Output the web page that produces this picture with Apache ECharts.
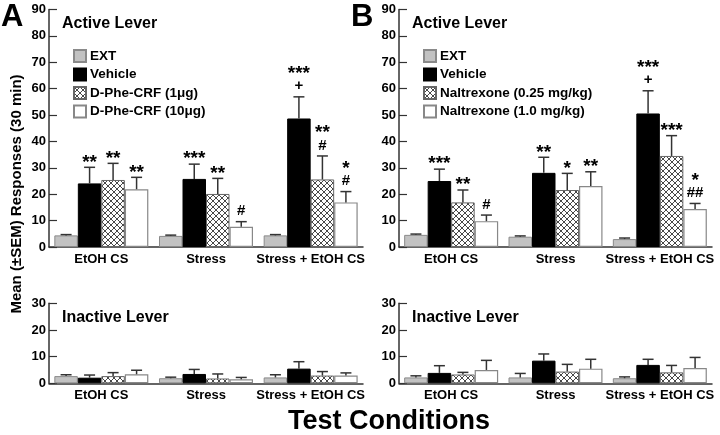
<!DOCTYPE html>
<html>
<head>
<meta charset="utf-8">
<script src="https://cdn.jsdelivr.net/npm/echarts@6/dist/echarts.min.js"></script>
<style>
html,body{margin:0;padding:0;background:#fff;}
#chart{width:720px;height:435px;}
</style>
</head>
<body>
<div id="chart"></div>
<script>
// ---------- DATA ----------
const categories = ['EtOH CS', 'Stress', 'Stress + EtOH CS'];
const namesA = ['EXT', 'Vehicle', 'D-Phe-CRF (1\u03bcg)', 'D-Phe-CRF (10\u03bcg)'];
const namesB = ['EXT', 'Vehicle', 'Naltrexone (0.25 mg/kg)', 'Naltrexone (1.0 mg/kg)'];
const activeTicks = [0, 10, 20, 30, 40, 50, 60, 70, 80, 90];
const inactiveTicks = [0, 10, 20, 30];

// Panel A - Active lever
const aActExt = [4.4, 4.2, 4.4];      const aActExtErr = [0.3, 0.3, 0.3];
const aActVeh = [24.1, 25.8, 48.7];   const aActVehErr = [6.1, 5.6, 8.2];
const aActD1 = [25.4, 20.1, 25.6];    const aActD1Err = [6.3, 5.9, 8.9];
const aActD10 = [21.9, 7.7, 16.9];    const aActD10Err = [4.5, 1.9, 4.1];
const aActVehSig = ['**', '***', '***\n+'];
const aActD1Sig = ['**', '**', '**\n#'];
const aActD10Sig = ['**', '#', '*\n#'];

// Panel A - Inactive lever
const aInExt = [2.7, 1.9, 2.2];  const aInExtErr = [0.5, 0.4, 1.0];
const aInVeh = [2.1, 3.5, 5.5];  const aInVehErr = [1.0, 1.7, 2.6];
const aInD1 = [2.7, 1.8, 2.9];   const aInD1Err = [1.3, 1.7, 1.5];
const aInD10 = [3.4, 1.5, 2.9];  const aInD10Err = [1.5, 0.7, 1.0];

// Panel B - Active lever
const bActExt = [4.6, 3.9, 3.0];      const bActExtErr = [0.3, 0.3, 0.4];
const bActVeh = [25.0, 28.1, 50.6];   const bActVehErr = [4.5, 5.9, 8.6];
const bActN25 = [16.9, 21.6, 34.5];   const bActN25Err = [4.7, 6.3, 7.7];
const bActN10 = [9.8, 23.1, 14.4];    const bActN10Err = [2.3, 5.4, 2.1];
const bActVehSig = ['***', '**', '***\n+'];
const bActN25Sig = ['**', '*', '***'];
const bActN10Sig = ['#', '**', '*\n##'];

// Panel B - Inactive lever
const bInExt = [2.2, 2.2, 1.9];  const bInExtErr = [0.6, 1.5, 0.5];
const bInVeh = [3.9, 8.5, 6.9];  const bInVehErr = [2.7, 2.5, 2.1];
const bInN25 = [3.3, 4.4, 4.1];  const bInN25Err = [0.8, 2.7, 2.6];
const bInN10 = [5.0, 5.5, 5.7];  const bInN10Err = [3.6, 3.5, 4.0];

// ---------- STYLE ----------
const FONT = "'Liberation Sans', Arial, Helvetica, sans-serif";
const BAR_W = 23.5;
const CAP_HALF = 5.5;

const hatch = document.createElement('canvas');
hatch.width = 6; hatch.height = 6;
(function () {
  const c = hatch.getContext('2d');
  c.fillStyle = '#fff'; c.fillRect(0, 0, 6, 6);
  c.strokeStyle = '#333'; c.lineWidth = 0.9;
  c.beginPath();
  c.moveTo(-1, -1); c.lineTo(7, 7);
  c.moveTo(-1, 7); c.lineTo(7, -1);
  c.stroke();
})();

const barStyles = [
  { color: '#c2c2c2', borderColor: '#8a8a8a', borderWidth: 1 },
  { color: '#000000', borderColor: '#000000', borderWidth: 1 },
  { color: { image: hatch, repeat: 'repeat' }, borderColor: '#666', borderWidth: 1 },
  { color: '#ffffff', borderColor: '#888', borderWidth: 1.2 }
];

const grids = [
  { left: 49, width: 314, top: 9.5, height: 237.5 },
  { left: 49, width: 314, top: 303.3, height: 80 },
  { left: 399, width: 313, top: 9.5, height: 237.5 },
  { left: 399, width: 313, top: 303.3, height: 80 }
];

function xAx(i) {
  return {
    type: 'category', gridIndex: i, data: categories,
    axisLine: { lineStyle: { color: '#333', width: 1.5 } },
    axisTick: { show: false },
    axisLabel: { color: '#000', fontFamily: FONT, fontWeight: 'bold', fontSize: 13, margin: 6, interval: 0 }
  };
}
function yAx(i, ticks) {
  return {
    type: 'value', gridIndex: i, min: ticks[0], max: ticks[ticks.length - 1],
    interval: ticks[1] - ticks[0],
    axisLine: { show: true, lineStyle: { color: '#333', width: 1.5 } },
    axisTick: { show: true, inside: true, length: 8, lineStyle: { color: '#333', width: 1.2 } },
    axisLabel: { color: '#000', fontFamily: FONT, fontWeight: 'bold', fontSize: 13, margin: 3 },
    splitLine: { show: false }
  };
}

function richSig(s) {
  return s.split('\n').map(function (line) {
    return line.indexOf('*') >= 0 ? '{s|' + line + '}' : '{p|' + line + '}';
  }).join('\n');
}

function panelSeries(g, names, means, errs, sigs) {
  const out = [];
  means.forEach((m, bi) => {
    out.push({
      type: 'bar', name: names[bi], xAxisIndex: g, yAxisIndex: g,
      data: m, barWidth: BAR_W, barGap: '0%',
      itemStyle: barStyles[bi], silent: true
    });
  });
  const items = [];
  means.forEach((m, bi) => m.forEach((v, ci) => items.push([ci, bi, v, errs[bi][ci]])));
  out.push({
    type: 'custom', xAxisIndex: g, yAxisIndex: g, z: 10, silent: true,
    data: items,
    renderItem: function (params, api) {
      const ci = api.value(0), bi = api.value(1), v = api.value(2), e = api.value(3);
      const base = api.coord([ci, v]);
      const top = api.coord([ci, v + e]);
      const x = base[0] + (bi - 1.5) * BAR_W;
      const children = [
        { type: 'line', shape: { x1: x, y1: base[1], x2: x, y2: top[1] }, style: { stroke: '#333', lineWidth: 1.5 } },
        { type: 'line', shape: { x1: x - CAP_HALF, y1: top[1], x2: x + CAP_HALF, y2: top[1] }, style: { stroke: '#333', lineWidth: 1.5 } }
      ];
      const s = sigs && sigs[bi] ? sigs[bi][ci] : '';
      if (s) {
        const lines = s.split('\n');
        const lastIsStar = lines[lines.length - 1].indexOf('*') >= 0;
        children.push({
          type: 'text',
          style: {
            x: x, y: top[1] + (lastIsStar ? 1 : -4), text: richSig(s), align: 'center', verticalAlign: 'bottom',
            fill: '#000',
            rich: {
              s: { fontFamily: FONT, fontWeight: 'bold', fontSize: 19, lineHeight: 12, fill: '#000' },
              p: { fontFamily: FONT, fontWeight: 'bold', fontSize: 15, lineHeight: 13, fill: '#000' }
            }
          }
        });
      }
      return { type: 'group', children: children };
    }
  });
  return out;
}

const series = [].concat(
  panelSeries(0, namesA, [aActExt, aActVeh, aActD1, aActD10], [aActExtErr, aActVehErr, aActD1Err, aActD10Err], [null, aActVehSig, aActD1Sig, aActD10Sig]),
  panelSeries(1, namesA, [aInExt, aInVeh, aInD1, aInD10], [aInExtErr, aInVehErr, aInD1Err, aInD10Err], null),
  panelSeries(2, namesB, [bActExt, bActVeh, bActN25, bActN10], [bActExtErr, bActVehErr, bActN25Err, bActN10Err], [null, bActVehSig, bActN25Sig, bActN10Sig]),
  panelSeries(3, namesB, [bInExt, bInVeh, bInN25, bInN10], [bInExtErr, bInVehErr, bInN25Err, bInN10Err], null)
);

function legend(left, names) {
  return {
    left: left, top: 49, orient: 'vertical', data: names, icon: 'rect',
    itemWidth: 12, itemHeight: 12, itemGap: 4.5, padding: 0, selectedMode: false,
    textStyle: { color: '#000', fontFamily: FONT, fontWeight: 'bold', fontSize: 13.5, padding: [0, 0, 0, -1] }
  };
}

function txt(x, y, s, size, extra) {
  return Object.assign({
    type: 'text', x: x, y: y,
    style: { text: s, fontFamily: FONT, fontWeight: 'bold', fontSize: size, fill: '#000', align: 'left', verticalAlign: 'middle' }
  }, extra || {});
}

const option = {
  animation: false,
  backgroundColor: '#fff',
  grid: grids,
  xAxis: [xAx(0), xAx(1), xAx(2), xAx(3)],
  yAxis: [yAx(0, activeTicks), yAx(1, inactiveTicks), yAx(2, activeTicks), yAx(3, inactiveTicks)],
  legend: [legend(73, namesA), legend(423, namesB)],
  series: series,
  graphic: [
    txt(1, 17, 'A', 31),
    txt(351, 17, 'B', 31),
    txt(62, 24, 'Active Lever', 16),
    txt(412, 24, 'Active Lever', 16),
    txt(62, 318, 'Inactive Lever', 16),
    txt(412, 318, 'Inactive Lever', 16),
    {
      type: 'text', x: 17, y: 194, rotation: Math.PI / 2,
      style: { text: 'Mean (\u00b1SEM) Responses (30 min)', fontFamily: FONT, fontWeight: 'bold', fontSize: 15, fill: '#000', align: 'center', verticalAlign: 'middle' }
    },
    {
      type: 'text', x: 389, y: 422,
      style: { text: 'Test Conditions', fontFamily: FONT, fontWeight: 'bold', fontSize: 27, fill: '#000', align: 'center', verticalAlign: 'middle' }
    }
  ]
};

const chart = echarts.init(document.getElementById('chart'), null, { renderer: 'canvas' });
chart.setOption(option);
</script>
</body>
</html>
